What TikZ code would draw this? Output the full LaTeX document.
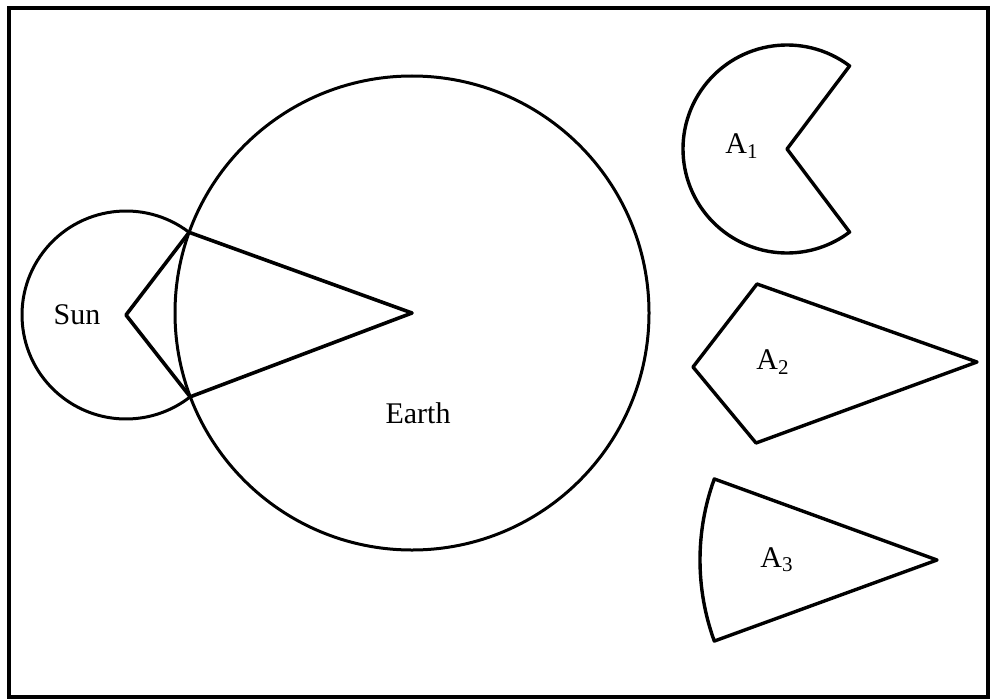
\documentclass[tikz,border=0pt]{standalone}
\usepackage{fontspec}
\setmainfont{Liberation Serif}
\usetikzlibrary{intersections}
\tikzset{
  rand/.style={draw=black, line width=2pt},
  kreis/.style={draw=black, line width=1.5pt},
  strecke/.style={draw=black, line width=1.8pt, line join=round},
  flaeche/.style={draw=black, line width=1.7pt, line join=round},
  beschr/.style={font=\fontsize{15}{18}\selectfont, inner sep=0pt}
}

\begin{document}
\begin{tikzpicture}[x=0.5pt, y=0.5pt]
\useasboundingbox (0,0) rectangle (990,698);
\draw[rand] (9,1) rectangle (988,690);

% Sonne, Erde und das Viereck dazwischen
\coordinate (sun) at (126,383);
\coordinate (earth) at (412,385);
\path[name path=sunkreis] (sun) circle[radius=104];
\draw[kreis, name path=erdkreis] (earth) circle[radius=237];
\draw[kreis] (sun) ++(52.6:104) arc[start angle=52.6, end angle=308.2, radius=104];
\path[name intersections={of=sunkreis and erdkreis, by={s1,s2}}];
\draw[strecke] (sun) -- (s1) -- (earth) -- (s2) -- cycle;
\node[beschr] (sun-txt) at (77,383) {Sun};
\node[beschr] (earth-txt) at (418,285) {Earth};

% A1: Sonne ohne Keil
\coordinate (a1) at (787,549);
\draw[flaeche] (a1) -- +(53:104) arc[start angle=53, end angle=307, radius=104] -- cycle;
\node[beschr] (a1-txt) at (742,552) {A\textsubscript{1}};

% A2: Viereck
\coordinate (a2-l) at (693,331);
\coordinate (a2-o) at (757,414);
\coordinate (a2-r) at (977,336);
\coordinate (a2-u) at (756,255);
\draw[flaeche] (a2-l) -- (a2-o) -- (a2-r) -- (a2-u) -- cycle;
\node[beschr] (a2-txt) at (773,336) {A\textsubscript{2}};

% A3: Sektor der Erde
\coordinate (a3) at (937,138);
\draw[flaeche] (a3) -- +(160:237) arc[start angle=160, end angle=200, radius=237] -- cycle;
\node[beschr] (a3-txt) at (777,138) {A\textsubscript{3}};

\end{tikzpicture}
\end{document}
